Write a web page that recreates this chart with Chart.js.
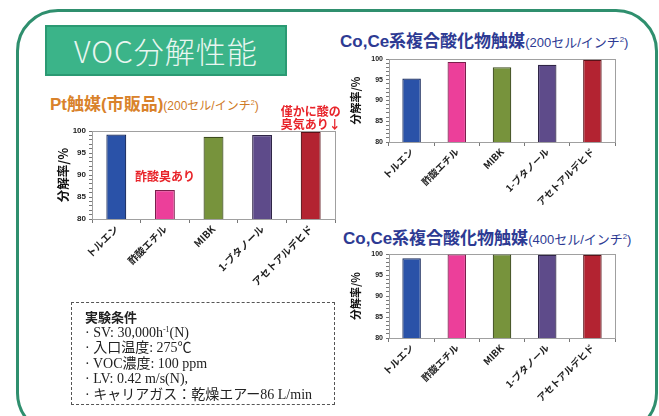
<!DOCTYPE html>
<html>
<head>
<meta charset="utf-8">
<script src="https://cdn.jsdelivr.net/npm/chart.js@4"></script>
<style>
  html, body { margin: 0; padding: 0; background: #fff; }
  body { width: 659px; height: 416px; position: relative; overflow: hidden; font-family: "Liberation Sans", "Noto Sans CJK JP", sans-serif; }
  .frame { position: absolute; left: 16px; top: 9px; width: 636px; height: 420px; border: 3px solid #2f8f6e; border-radius: 42px; }
  .titlebox { position: absolute; left: 45px; top: 25px; width: 238px; height: 47px; background: #3bb489; border: 2px solid #2b9a73;
    color: #e9f6f0; font-family: "Noto Sans CJK JP", sans-serif; font-size: 30px; line-height: 47px; text-align: center; font-weight: 300; letter-spacing: 1px; }
  .ctitle { position: absolute; white-space: nowrap; font-family: "Liberation Sans", "Noto Sans CJK JP", sans-serif; }
  .ctitle b { font-weight: bold; }
  .ctitle span { font-weight: normal; }
  .ctitle sup { font-size: 60%; }
  .pt { left: 50px; top: 90px; color: #d9822b; font-size: 17px; }
  .pt span { font-size: 12px; color: #cf7a25; }
  .co { color: #2d3a93; font-size: 17px; }
  .co span { font-size: 13px; }
  canvas { position: absolute; }
  .cond { position: absolute; left: 71px; top: 302px; width: 264px; height: 103px; border: 1.5px dashed #555; box-sizing: border-box;
    font-family: "Liberation Serif", "Noto Sans CJK JP", serif; font-size: 14px; color: #222; padding: 6px 0 0 13px; }
  .cond div { height: 15.5px; line-height: 15.5px; white-space: nowrap; }
  .cond b { font-family: "Noto Sans CJK JP", sans-serif; font-weight: bold; font-size: 13px; }
  .cond sup { font-size: 8px; line-height: 0; vertical-align: 5px; }
</style>
</head>
<body>
<div class="frame"></div>
<div class="titlebox">VOC分解性能</div>

<div class="ctitle pt"><b>Pt触媒(市販品)</b><span>(200セル/インチ<sup>2</sup>)</span></div>
<div class="ctitle co" style="left:340px; top:27px;"><b>Co,Ce系複合酸化物触媒</b><span>(200セル/インチ<sup>2</sup>)</span></div>
<div class="ctitle co" style="left:343px; top:224px;"><b>Co,Ce系複合酸化物触媒</b><span>(400セル/インチ<sup>2</sup>)</span></div>

<canvas id="ptChart" width="300" height="200" style="left:40px; top:100px;"></canvas>
<canvas id="co200Chart" width="320" height="170" style="left:330px; top:50px;"></canvas>
<canvas id="co400Chart" width="320" height="170" style="left:330px; top:245px;"></canvas>

<div class="cond">
  <div><b>実験条件</b></div>
  <div>· SV: 30,000h<sup>-1</sup>(N)</div>
  <div>· 入口温度: 275℃</div>
  <div>· VOC濃度: 100 ppm</div>
  <div>· LV: 0.42 m/s(N),</div>
  <div>· キャリアガス：乾燥エアー86 L/min</div>
</div>

<script>
// data
const categories = ['トルエン', '酢酸エチル', 'MIBK', '1-ブタノール', 'アセトアルデヒド'];
const ptValues = [99.2, 86.6, 98.7, 99.1, 99.8];
const co200Values = [95.3, 99.3, 98.0, 98.6, 99.8];
const co400Values = [99.0, 99.9, 99.9, 99.8, 99.8];
const ptNotes = ['', '酢酸臭あり', '', '', '僅かに酸の\n臭気あり↓'];
const yMin = 80, yMax = 100;

const barColors = ['#2a52a8', '#ec3f9a', '#77933c', '#5e4b8a', '#b32331'];
const barBorders = ['#16285a', '#7a1f4c', '#3d4c1e', '#2f2546', '#5a1218'];

// grey frame round the plot + red notes above bars
const extras = {
    id: 'extras',
    beforeDatasetsDraw(chart) {
        const a = chart.chartArea, ctx = chart.ctx;
        ctx.save();
        ctx.strokeStyle = '#a0a0a0';
        ctx.lineWidth = 1;
        ctx.strokeRect(a.left + 0.5, a.top + 0.5, a.right - a.left, a.bottom - a.top);
        ctx.restore();
    },
    afterDatasetsDraw(chart, args, opts) {
        if (!opts.notes) return;
        const ctx = chart.ctx;
        const meta = chart.getDatasetMeta(0);
        ctx.save();
        ctx.fillStyle = '#e8242a';
        ctx.font = 'bold 12px "Noto Sans CJK JP"';
        ctx.textAlign = 'center';
        ctx.textBaseline = 'bottom';
        opts.notes.forEach((note, i) => {
            if (!note) return;
            const bar = meta.data[i];
            const lines = note.split('\n');
            const gap = lines.length > 1 ? 1 : 8;
            lines.forEach((ln, k) => {
                const y = bar.y - gap - (lines.length - 1 - k) * 13;
                ctx.fillText(ln, bar.x, y);
            });
        });
        ctx.restore();
    }
};

function makeChart(id, values, cfg) {
    const ctx = document.getElementById(id).getContext('2d');
    return new Chart(ctx, {
        type: 'bar',
        data: {
            labels: categories,
            datasets: [{
                data: values,
                backgroundColor: barColors,
                borderColor: barBorders,
                borderWidth: 1.2,
                barPercentage: 0.82,
                categoryPercentage: 0.5
            }]
        },
        options: {
            responsive: false,
            animation: false,
            layout: { padding: { left: 0, top: cfg.padTop, right: cfg.padRight, bottom: 0 } },
            plugins: {
                legend: { display: false },
                tooltip: { enabled: false },
                extras: { notes: cfg.notes }
            },
            scales: {
                x: {
                    grid: { drawOnChartArea: false, tickLength: 4, color: '#777' },
                    border: { color: '#555', width: 1 },
                    ticks: {
                        maxRotation: 45, minRotation: 45, padding: 0, color: '#222',
                        font: { family: 'Noto Sans CJK JP', weight: 'bold', size: cfg.xFont }
                    },
                    afterFit: s => { s.height = cfg.xHeight; }
                },
                y: {
                    min: yMin, max: yMax,
                    grid: { drawOnChartArea: false, tickLength: 3, color: '#777' },
                    border: { color: '#555', width: 1 },
                    ticks: {
                        stepSize: 1, autoSkip: false, padding: 3, color: '#222',
                        font: { family: 'Liberation Sans', weight: 'bold', size: cfg.yFont },
                        callback: v => (v % 5 === 0 ? v : '')
                    },
                    title: {
                        display: true, text: '分解率/%', color: '#111',
                        font: { family: 'Noto Sans CJK JP', weight: 'bold', size: cfg.titleFont },
                        padding: { top: cfg.titlePad, bottom: 0 }
                    },
                    afterFit: s => { s.width = cfg.yWidth; }
                }
            }
        },
        plugins: [extras]
    });
}

makeChart('ptChart', ptValues, { padTop: 31, padRight: 5, xHeight: 81, yWidth: 52, xFont: 10, yFont: 8, titleFont: 12.5, titlePad: 16, notes: ptNotes });
makeChart('co200Chart', co200Values, { padTop: 9, padRight: 35, xHeight: 78, yWidth: 59, xFont: 9.5, yFont: 7, titleFont: 11, titlePad: 19 });
makeChart('co400Chart', co400Values, { padTop: 9, padRight: 35, xHeight: 77, yWidth: 59, xFont: 9.5, yFont: 7, titleFont: 11, titlePad: 19 });
</script>
</body>
</html>
